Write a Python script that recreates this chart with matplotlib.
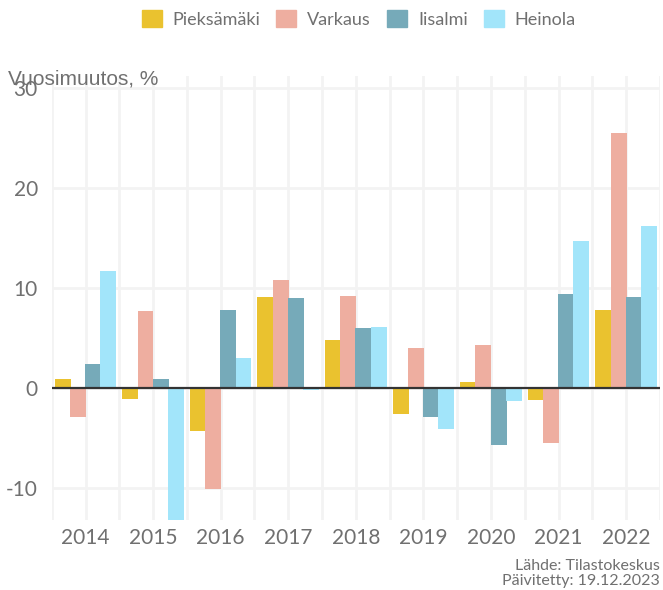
import numpy as np
import matplotlib
matplotlib.use("Agg")
from matplotlib import pyplot as plt
from matplotlib.patches import Patch

years = ["2014", "2015", "2016", "2017", "2018", "2019", "2020", "2021", "2022"]
pieksamaki = [0.9, -1.1, -4.3, 9.1, 4.8, -2.6, 0.6, -1.2, 7.8]
varkaus = [-2.9, 7.7, -10.1, 10.8, 9.2, 4.0, 4.3, -5.5, 25.5]
iisalmi = [2.4, 0.9, 7.8, 9.0, 6.0, -2.9, -5.7, 9.4, 9.1]
heinola = [11.7, -14.5, 3.0, -0.2, 6.1, -4.1, -1.3, 14.7, 16.2]

names = ["Pieksämäki", "Varkaus", "Iisalmi", "Heinola"]
colors = ["#EAC22F", "#EEAEA0", "#76AAB9", "#A2E5FA"]
series = [pieksamaki, varkaus, iisalmi, heinola]

plt.rcParams["axes.unicode_minus"] = False
grey = "#707070"
fig = plt.figure(figsize=(6.63, 5.90), dpi=100)
ax = fig.add_axes([0.078, 0.1186, 0.9175, 0.7525])

x = np.arange(len(years))
w = 0.225
for i, (vals, c) in enumerate(zip(series, colors)):
    ax.bar(x + (i - 1.5) * w, vals, width=w * 1.05, color=c, zorder=2)

ax.axhline(0, color="#333333", lw=1.6, zorder=3)
ax.set_xlim(-0.5, 8.5)
ax.set_ylim(-13.2, 31.2)
ax.set_yticks([-10, 0, 10, 20, 30])
ax.set_xticks(x)
ax.set_xticks(np.arange(-0.5, 9, 1), minor=True)
ax.set_xticklabels(years)
ax.grid(True, which="both", color="#f3f3f3", lw=2, zorder=0)
ax.tick_params(which="both", length=0)
ax.tick_params(axis="x", labelsize=15, labelcolor=grey, pad=6)
ax.tick_params(axis="y", labelsize=15, labelcolor=grey, pad=10)
for lab in ax.get_xticklabels() + ax.get_yticklabels():
    lab.set_fontfamily("Lato")
for s in ax.spines.values():
    s.set_visible(False)

fig.text(0.012, 0.857, "Vuosimuutos, %", fontsize=15, color=grey,
         family="Liberation Sans", va="baseline")

handles = [Patch(color=c, label=n) for n, c in zip(names, colors)]
fig.legend(handles=handles, loc="center", bbox_to_anchor=(0.541, 0.968), ncol=4,
           frameon=False, handlelength=1.1, handleheight=1.1,
           handletextpad=0.6, columnspacing=0.9, prop={"family": "Lato", "size": 13},
           labelcolor=grey)

fig.text(0.995, 0.004, "Lähde: Tilastokeskus\nPäivitetty: 19.12.2023", ha="right",
         va="bottom", fontsize=11.5, color=grey, family="Lato", linespacing=1.05)

fig.savefig("out.png", dpi=100)
